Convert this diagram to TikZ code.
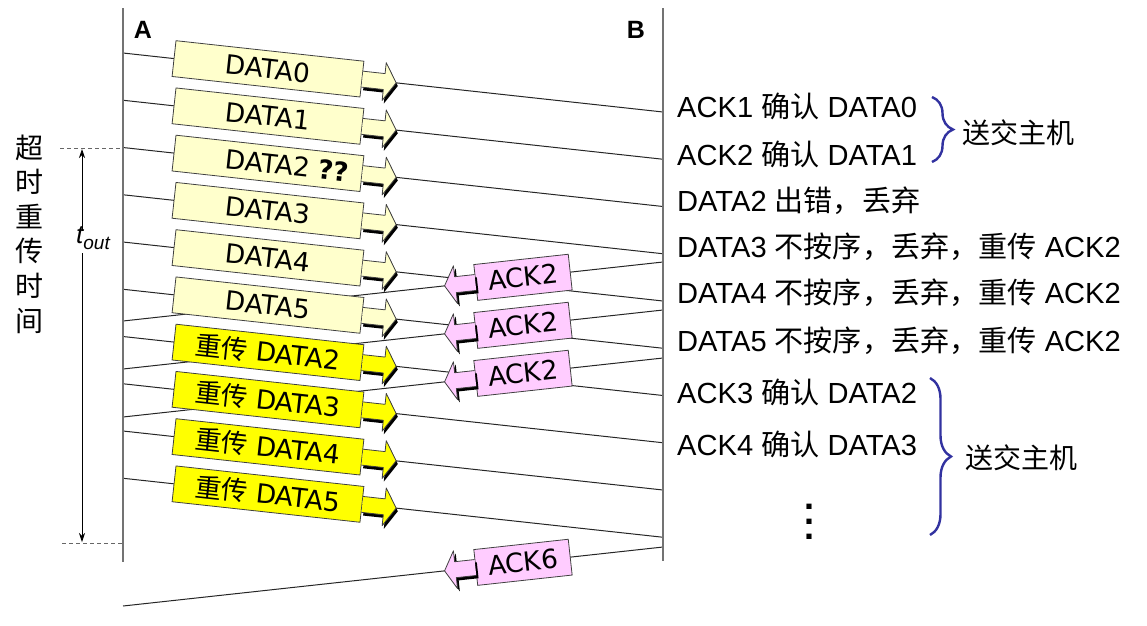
\documentclass[tikz,border=0pt]{standalone}
\usepackage{fontspec}
\setmainfont{Liberation Sans}
\newfontfamily\cjk{Noto Sans CJK SC}
\newfontfamily\boxfont{DejaVu Sans}
\usetikzlibrary{decorations.pathreplacing,arrows.meta}
\newcommand\zh[1]{{\cjk #1}}
\newcommand\boxtxt{\fontsize{26.4}{28}\selectfont\boxfont}
\newcommand\rtxt{\fontsize{29.1}{30}\selectfont}
\definecolor{lyel}{HTML}{FFFFCC}
\definecolor{yel}{HTML}{FFFF00}
\definecolor{pnk}{HTML}{FFCCFF}
\definecolor{brc}{RGB}{50,50,160}
\newcommand\fwdpath[2]{(#1,#2-8) -- (#1+22,#2-8) -- (#1+22,#2-19) -- (#1+34,#2) -- (#1+22,#2+19) -- (#1+22,#2+8) -- (#1,#2+8)}
\newcommand\bwdpath[2]{(#1,#2-8) -- (#1-20,#2-8) -- (#1-20,#2-19) -- (#1-31,#2) -- (#1-20,#2+19) -- (#1-20,#2+8) -- (#1,#2+8)}
\newcommand\fwdarrow[2]{%
  \begin{scope}[shift={(#1.east)}, rotate=-6.2354]
    \fill[black] \fwdpath{2}{3} -- cycle;
    \fill[#2] \fwdpath{0}{0} -- cycle;
    \draw[black!75, line width=0.8pt, line join=round] \fwdpath{0}{0};
  \end{scope}}
\newcommand\bwdarrow[2]{%
  \begin{scope}[shift={(#1.west)}, rotate=6.2354]
    \fill[black] \bwdpath{2}{3} -- cycle;
    \fill[#2] \bwdpath{0}{0} -- cycle;
    \draw[black!75, line width=0.8pt, line join=round] \bwdpath{0}{0};
  \end{scope}}
\begin{document}
\begin{tikzpicture}[x=1pt,y=-1pt,
  msgline/.style={draw=black!85, line width=1pt},
  hostline/.style={draw=black!55, line width=1.8pt},
  box/.style={draw=black!75, line width=0.8pt, inner sep=0pt, minimum height=36pt, sloped},
  databox/.style={box, fill=lyel, minimum width=189pt, pos=0.2685, font=\boxtxt},
  rebox/.style={databox, fill=yel},
  ackbox/.style={box, fill=pnk, minimum width=95pt, pos=0.2593, font=\boxtxt},
  rtext/.style={anchor=base west, font=\rtxt, inner sep=0pt},
  hosttag/.style={font=\fontsize{25}{28}\selectfont\bfseries, inner sep=0pt},
  bracestyle/.style={draw=brc, line width=2.4pt, decorate, decoration={brace, amplitude=21pt}},
  dashline/.style={draw=black!60, line width=0.8pt, dash pattern=on 4pt off 3pt},
  timearrow/.style={draw=black, line width=0.8pt, -{Stealth[length=9pt,width=6pt]}}
]
\useasboundingbox (0,0) rectangle (1147,625);

% hosts
\coordinate (Atop) at (123,8);
\coordinate (Abot) at (123,562);
\coordinate (Btop) at (663,8);
\coordinate (Bbot) at (663,561);
\node[hosttag] (A) at (143,30) {A};
\node[hosttag] (B) at (636,30) {B};

% message endpoints
\foreach \i in {0,...,9}{
  \coordinate (a\i) at (123,{53+47.25*\i});
  \coordinate (b\i) at (663,{112+47.25*\i});
}
\coordinate (kb1) at (663,262); \coordinate (ka1) at (123,321);
\coordinate (kb2) at (663,310); \coordinate (ka2) at (123,369);
\coordinate (kb3) at (663,358); \coordinate (ka3) at (123,417);
\coordinate (kb6) at (663,547); \coordinate (ka6) at (123,606);

% lines
\foreach \i in {0,...,9}{ \draw[msgline] (a\i) -- (b\i); }
\foreach \j in {1,2,3,6}{ \draw[msgline] (kb\j) -- (ka\j); }
\draw[hostline] (Atop) -- (Abot);
\draw[hostline] (Btop) -- (Bbot);

% data boxes
\path (a0) -- node[databox] (d0) {DATA0} (b0);
\path (a1) -- node[databox] (d1) {DATA1} (b1);
\path (a2) -- node[databox] (d2) {DATA2\rlap{ \textbf{??}}} (b2);
\path (a3) -- node[databox] (d3) {DATA3} (b3);
\path (a4) -- node[databox] (d4) {DATA4} (b4);
\path (a5) -- node[databox] (d5) {DATA5} (b5);
\path (a6) -- node[rebox] (d6) {\zh{重传} DATA2} (b6);
\path (a7) -- node[rebox] (d7) {\zh{重传} DATA3} (b7);
\path (a8) -- node[rebox] (d8) {\zh{重传} DATA4} (b8);
\path (a9) -- node[rebox] (d9) {\zh{重传} DATA5} (b9);
\foreach \i in {0,...,5}{ \fwdarrow{d\i}{lyel} }
\foreach \i in {6,...,9}{ \fwdarrow{d\i}{yel} }

% ack boxes
\path (kb1) -- node[ackbox] (k1) {ACK2} (ka1);
\path (kb2) -- node[ackbox] (k2) {ACK2} (ka2);
\path (kb3) -- node[ackbox] (k3) {ACK2} (ka3);
\path (kb6) -- node[ackbox] (k6) {ACK6} (ka6);
\foreach \j in {1,2,3,6}{ \bwdarrow{k\j}{pnk} }

% timeout
\coordinate (tl1) at (60,148);
\coordinate (tr1) at (123,148);
\coordinate (tl2) at (62,543);
\coordinate (tr2) at (123,543);
\draw[dashline] (tl1) -- (tr1);
\draw[dashline] (tl2) -- (tr2);
\node[inner sep=0pt] (tout) at (93,238) {\fontsize{26}{28}\selectfont\itshape t\raisebox{-0.22em}{\fontsize{19}{20}\selectfont out}};
\coordinate (tu) at (82,231);
\coordinate (tup) at (82,149);
\coordinate (td) at (82,253);
\coordinate (tdn) at (82,542);
\draw[timearrow] (tu) -- (tup);
\draw[timearrow] (td) -- (tdn);
\node[font=\fontsize{28}{34.6}\selectfont\cjk, align=center, inner sep=0pt] (vt) at (29,234) {超\\时\\重\\传\\时\\间};

% right side texts
\node[rtext] (r1) at (677,117) {ACK1 \zh{确认} DATA0};
\node[rtext] (r2) at (677,165) {ACK2 \zh{确认} DATA1};
\node[rtext] (r3) at (677,211) {DATA2 \zh{出错，丢弃}};
\node[rtext] (r4) at (677,257) {DATA3 \zh{不按序，丢弃，重传} ACK2};
\node[rtext] (r5) at (677,303) {DATA4 \zh{不按序，丢弃，重传} ACK2};
\node[rtext] (r6) at (677,351) {DATA5 \zh{不按序，丢弃，重传} ACK2};
\node[rtext] (r7) at (677,403) {ACK3 \zh{确认} DATA2};
\node[rtext] (r8) at (677,455) {ACK4 \zh{确认} DATA3};
\node[font=\fontsize{36}{15}\selectfont\bfseries, align=center, inner sep=0pt] (dots) at (809,522) {.\\.\\.};

% braces
\coordinate (br1t) at (932,97);
\coordinate (br1b) at (932,162);
\coordinate (br2t) at (930,378);
\coordinate (br2b) at (930,535);
\draw[bracestyle] (br1t) -- (br1b);
\draw[bracestyle] (br2t) -- (br2b);
\node[anchor=west, font=\fontsize{28}{30}\selectfont\cjk, inner sep=0pt] (h1) at (962,133) {送交主机};
\node[anchor=west, font=\fontsize{28}{30}\selectfont\cjk, inner sep=0pt] (h2) at (965,458) {送交主机};
\end{tikzpicture}
\end{document}
